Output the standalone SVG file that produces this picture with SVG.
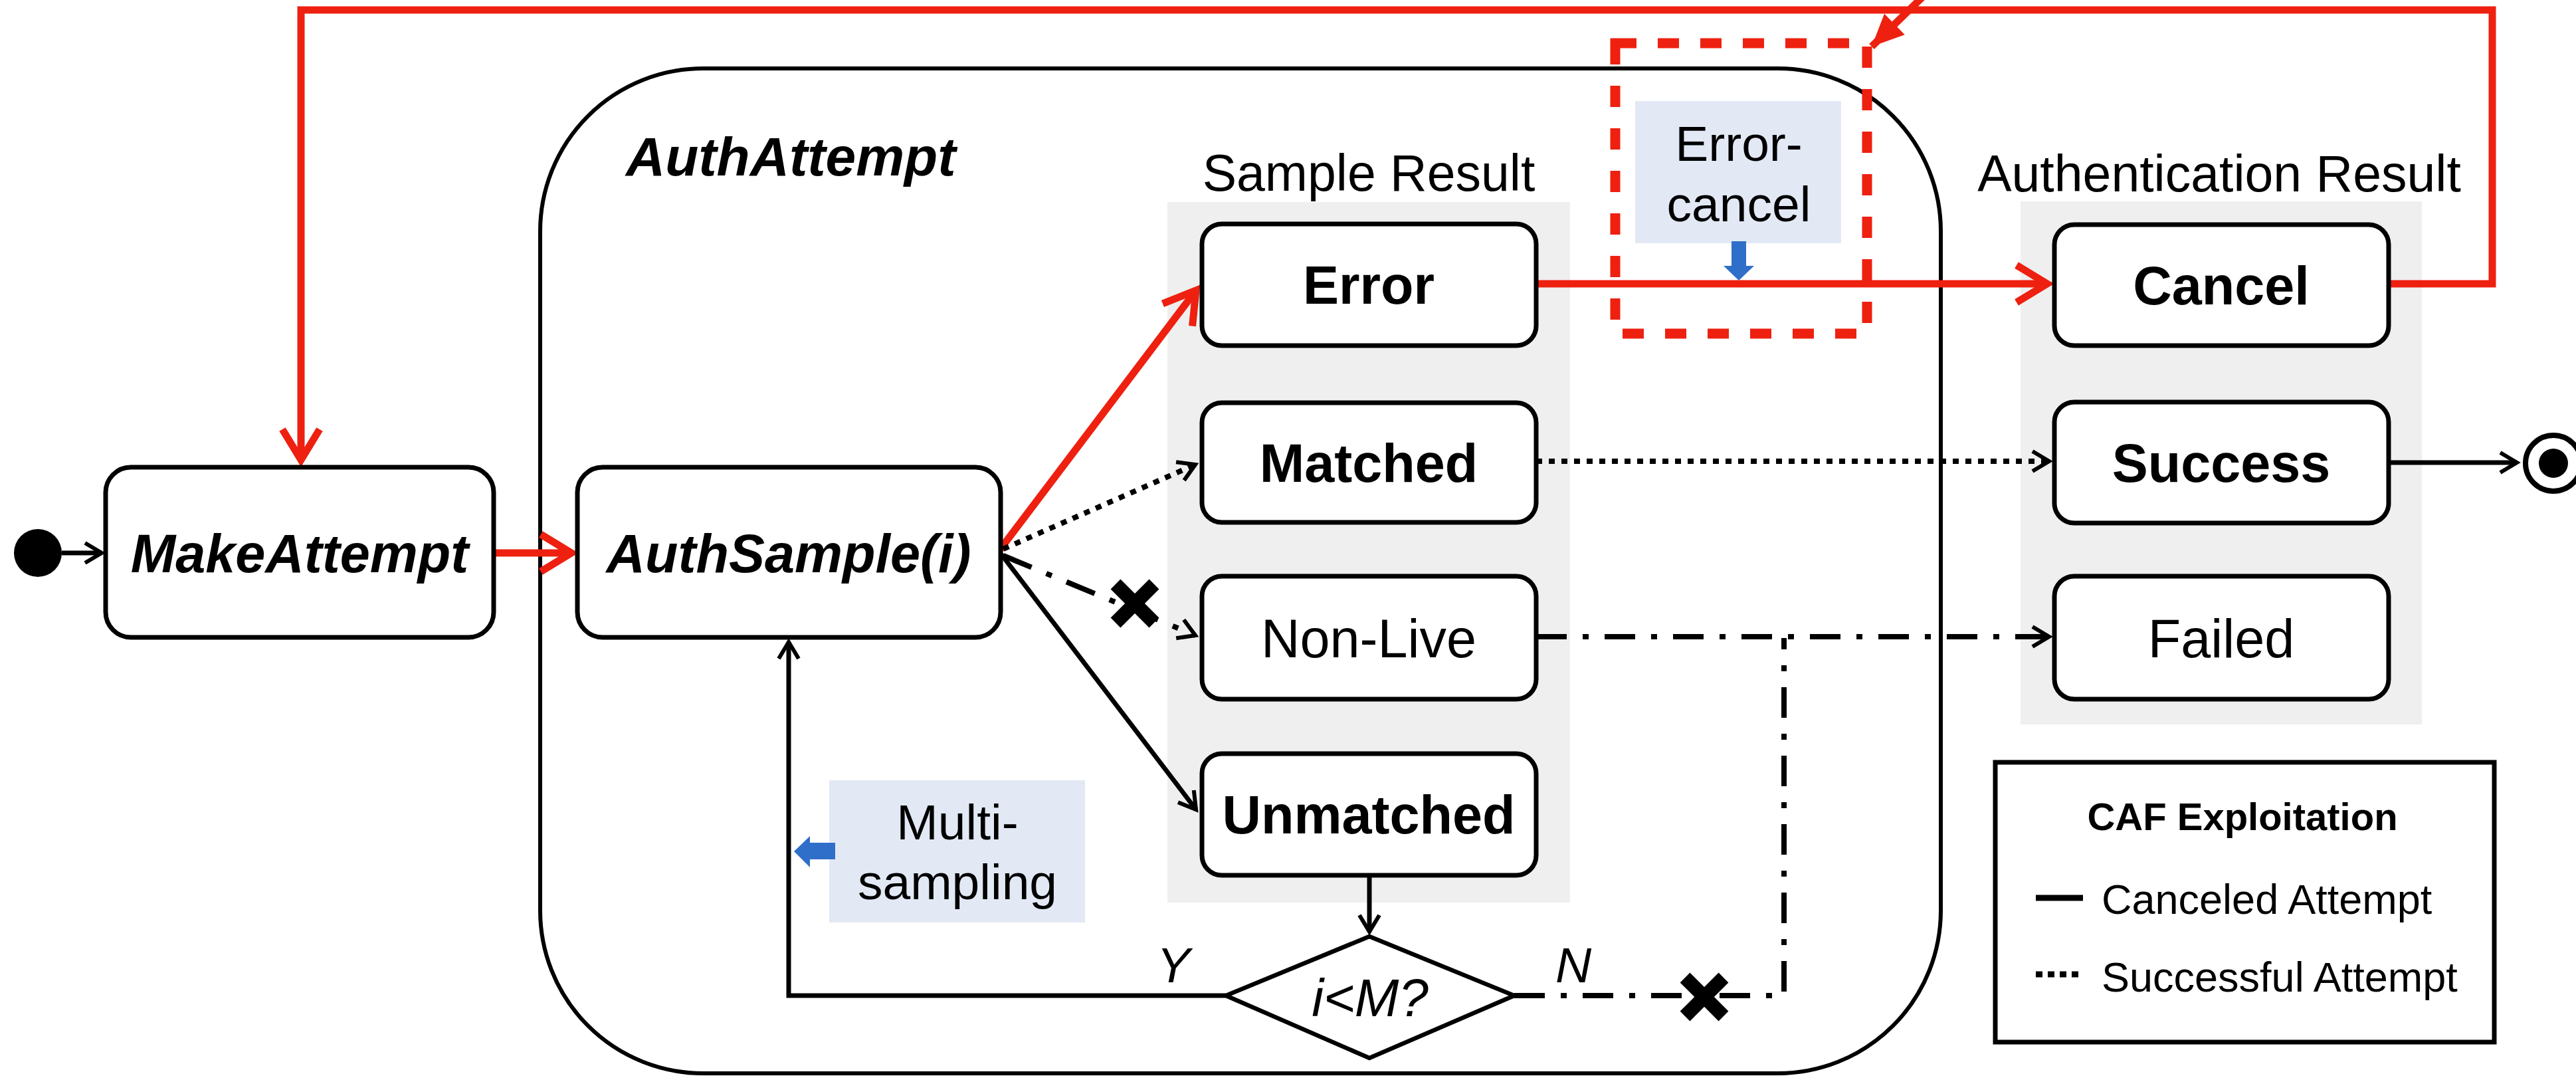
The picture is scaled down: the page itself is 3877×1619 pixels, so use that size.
<svg xmlns="http://www.w3.org/2000/svg" xmlns:xlink="http://www.w3.org/1999/xlink" width="3877" height="1619" viewBox="0 0 3877 1619">
  <style>
    text { font-family: "Liberation Sans", Arial, sans-serif; fill: #000; }
    .node { fill: #fff; stroke: #000; stroke-width: 7; }
    .panel { fill: #efefef; stroke: none; }
    .note { fill: #e2e9f5; stroke: none; }
    .lbl { font-size: 81px; text-anchor: middle; }
    .b { font-weight: bold; }
    .bi { font-weight: bold; font-style: italic; }
    .hdr { font-size: 77px; text-anchor: middle; }
    .noteTxt { font-size: 75px; text-anchor: middle; }
    .solid { fill: none; stroke: #000; stroke-width: 7; }
    .dotted { fill: none; stroke: #000; stroke-width: 8; stroke-dasharray: 9 10; }
    .dashdot { fill: none; stroke: #000; stroke-width: 8; stroke-dasharray: 46 24 9 24; }
    .red { fill: none; stroke: #ee2010; stroke-width: 11; stroke-linejoin: miter; }
    .blue { fill: #2f6fc9; stroke: none; }
  </style>
  <defs>
    <marker id="openBlack" markerUnits="userSpaceOnUse" markerWidth="60" markerHeight="60" refX="0" refY="0" orient="auto" overflow="visible">
      <path d="M-25,-15 L0,0 L-25,15" fill="none" stroke="#000" stroke-width="6" stroke-dasharray="none"/>
    </marker>
    <marker id="openRed" markerUnits="userSpaceOnUse" markerWidth="100" markerHeight="100" refX="0" refY="0" orient="auto" overflow="visible">
      <path d="M-46,-28 L0,0 L-46,28" fill="none" stroke="#ee2010" stroke-width="11"/>
    </marker>
    <marker id="filledRed" markerUnits="userSpaceOnUse" markerWidth="100" markerHeight="100" refX="0" refY="0" orient="auto" overflow="visible">
      <path d="M-48,-22 L0,0 L-48,22 Z" fill="#ee2010" stroke="none"/>
    </marker>
    <!-- cross used to mark a blocked transition -->
    <path id="cross" d="M-29,-29 L29,29 M-29,29 L29,-29" fill="none" stroke="#000" stroke-width="21"/>
  </defs>

  <rect width="3877" height="1619" fill="#fff"/>

  <!-- composite state -->
  <g id="AuthAttempt">
    <rect x="813" y="103" width="2108" height="1512" rx="245" ry="245" fill="none" stroke="#000" stroke-width="6"/>
    <text x="942" y="264" class="bi" font-size="82">AuthAttempt</text>
  </g>

  <!-- result groupings -->
  <g id="SampleResult">
    <rect class="panel" x="1757" y="304" width="606" height="1054"/>
    <text class="hdr" x="2060" y="287">Sample Result</text>
  </g>
  <g id="AuthenticationResult">
    <rect class="panel" x="3041" y="303" width="604" height="787"/>
    <text class="hdr" x="3340" y="288">Authentication Result</text>
  </g>

  <!-- connectors -->
  <g id="connectors">
    <path class="solid" d="M93,832 H153" marker-end="url(#openBlack)"/>
    <path class="red" d="M743,832 H860" marker-end="url(#openRed)"/>
    <path class="red" d="M1505,827 L1800,437" marker-end="url(#openRed)"/>
    <path class="dotted" d="M1510,826 L1799,699" marker-end="url(#openBlack)"/>
    <path class="dashdot" d="M1510,836 L1799,956" marker-end="url(#openBlack)"/>
    <path class="solid" d="M1507,834 L1800,1218" marker-end="url(#openBlack)"/>
    <path class="solid" d="M2061,1317 V1402" marker-end="url(#openBlack)"/>
    <path class="solid" d="M1845,1498 H1187 V966" marker-end="url(#openBlack)"/>
    <path class="dashdot" d="M2279,1498 H2685 V960"/>
    <path class="red" d="M2312,427 H3081" marker-end="url(#openRed)"/>
    <path class="dotted" d="M2312,694 H3084" marker-end="url(#openBlack)"/>
    <path class="dashdot" d="M2312,958 H3084" marker-end="url(#openBlack)"/>
    <path class="solid" d="M3595,696 H3788" marker-end="url(#openBlack)"/>
    <path class="red" d="M3597,427 H3751 V15 H453 V692" marker-end="url(#openRed)"/>
    <path class="red" d="M2893,-4 L2817,70" stroke-width="10" marker-end="url(#filledRed)"/>
    <use xlink:href="#cross" href="#cross" x="1708" y="908"/>
    <use xlink:href="#cross" href="#cross" x="2565" y="1500"/>
  </g>

  <!-- initial and final pseudo-states -->
  <g id="Initial">
    <circle cx="57" cy="832" r="36" fill="#000"/>
  </g>
  <g id="Final">
    <circle cx="3843" cy="697" r="42" fill="#fff" stroke="#000" stroke-width="8"/>
    <circle cx="3843" cy="697" r="22" fill="#000"/>
  </g>

  <g id="MakeAttempt">
    <rect class="node" x="159" y="703" width="584" height="256" rx="38"/>
    <text class="lbl bi" x="451" y="861" font-size="82">MakeAttempt</text>
  </g>
  <g id="AuthSample">
    <rect class="node" x="869" y="703" width="637" height="256" rx="38"/>
    <text class="lbl bi" x="1187" y="861" font-size="82">AuthSample(i)</text>
  </g>

  <g id="Error">
    <rect class="node" x="1809" y="337" width="503" height="183" rx="30"/>
    <text class="lbl b" x="2060" y="457">Error</text>
  </g>
  <g id="Matched">
    <rect class="node" x="1809" y="606" width="503" height="180" rx="30"/>
    <text class="lbl b" x="2060" y="725">Matched</text>
  </g>
  <g id="NonLive">
    <rect class="node" x="1809" y="867" width="503" height="185" rx="30"/>
    <text class="lbl" x="2060" y="989">Non-Live</text>
  </g>
  <g id="Unmatched">
    <rect class="node" x="1809" y="1134" width="503" height="183" rx="30"/>
    <text class="lbl b" x="2060" y="1254">Unmatched</text>
  </g>

  <g id="Decision">
    <polygon points="2061,1409 2279,1498 2061,1592 1845,1498" fill="#fff" stroke="#000" stroke-width="6.5"/>
    <text x="2062" y="1529" font-size="80" font-style="italic" text-anchor="middle">i&lt;M?</text>
    <text x="1766" y="1478" font-size="75" font-style="italic" text-anchor="middle">Y</text>
    <text x="2368" y="1478" font-size="75" font-style="italic" text-anchor="middle">N</text>
  </g>

  <g id="Cancel">
    <rect class="node" x="3092" y="338" width="503" height="182" rx="30"/>
    <text class="lbl b" x="3343" y="458">Cancel</text>
  </g>
  <g id="Success">
    <rect class="node" x="3092" y="605" width="503" height="182" rx="30"/>
    <text class="lbl b" x="3343" y="725">Success</text>
  </g>
  <g id="Failed">
    <rect class="node" x="3092" y="867" width="503" height="185" rx="30"/>
    <text class="lbl" x="3343" y="989">Failed</text>
  </g>

  <!-- annotation notes -->
  <g id="ErrorCancelNote">
    <rect class="note" x="2461" y="152" width="310" height="214"/>
    <text class="noteTxt" x="2617" y="242">Error-</text>
    <text class="noteTxt" x="2617" y="333">cancel</text>
    <path class="blue" d="M2606,363 H2628 V400 H2640 L2617,422 L2594,400 H2606 Z"/>
    <rect x="2431" y="65" width="379" height="437" fill="none" stroke="#ee2010" stroke-width="15" stroke-dasharray="32 32"/>
  </g>
  <g id="MultiSamplingNote">
    <rect class="note" x="1248" y="1174" width="385" height="214"/>
    <text class="noteTxt" x="1441" y="1263">Multi-</text>
    <text class="noteTxt" x="1441" y="1353">sampling</text>
    <path class="blue" d="M1257,1268 V1293 H1219 V1305 L1195,1281 L1219,1258 V1268 Z"/>
  </g>

  <!-- legend -->
  <g id="Legend">
    <rect x="3003" y="1147" width="751" height="421" fill="#fff" stroke="#000" stroke-width="7"/>
    <text x="3375" y="1249" font-size="58" font-weight="bold" text-anchor="middle">CAF Exploitation</text>
    <line x1="3064" y1="1351" x2="3135" y2="1351" stroke="#000" stroke-width="9"/>
    <text x="3163" y="1375" font-size="63">Canceled Attempt</text>
    <line x1="3064" y1="1466" x2="3134" y2="1466" stroke="#000" stroke-width="9" stroke-dasharray="10 8"/>
    <text x="3163" y="1492" font-size="63">Successful Attempt</text>
  </g>
</svg>
